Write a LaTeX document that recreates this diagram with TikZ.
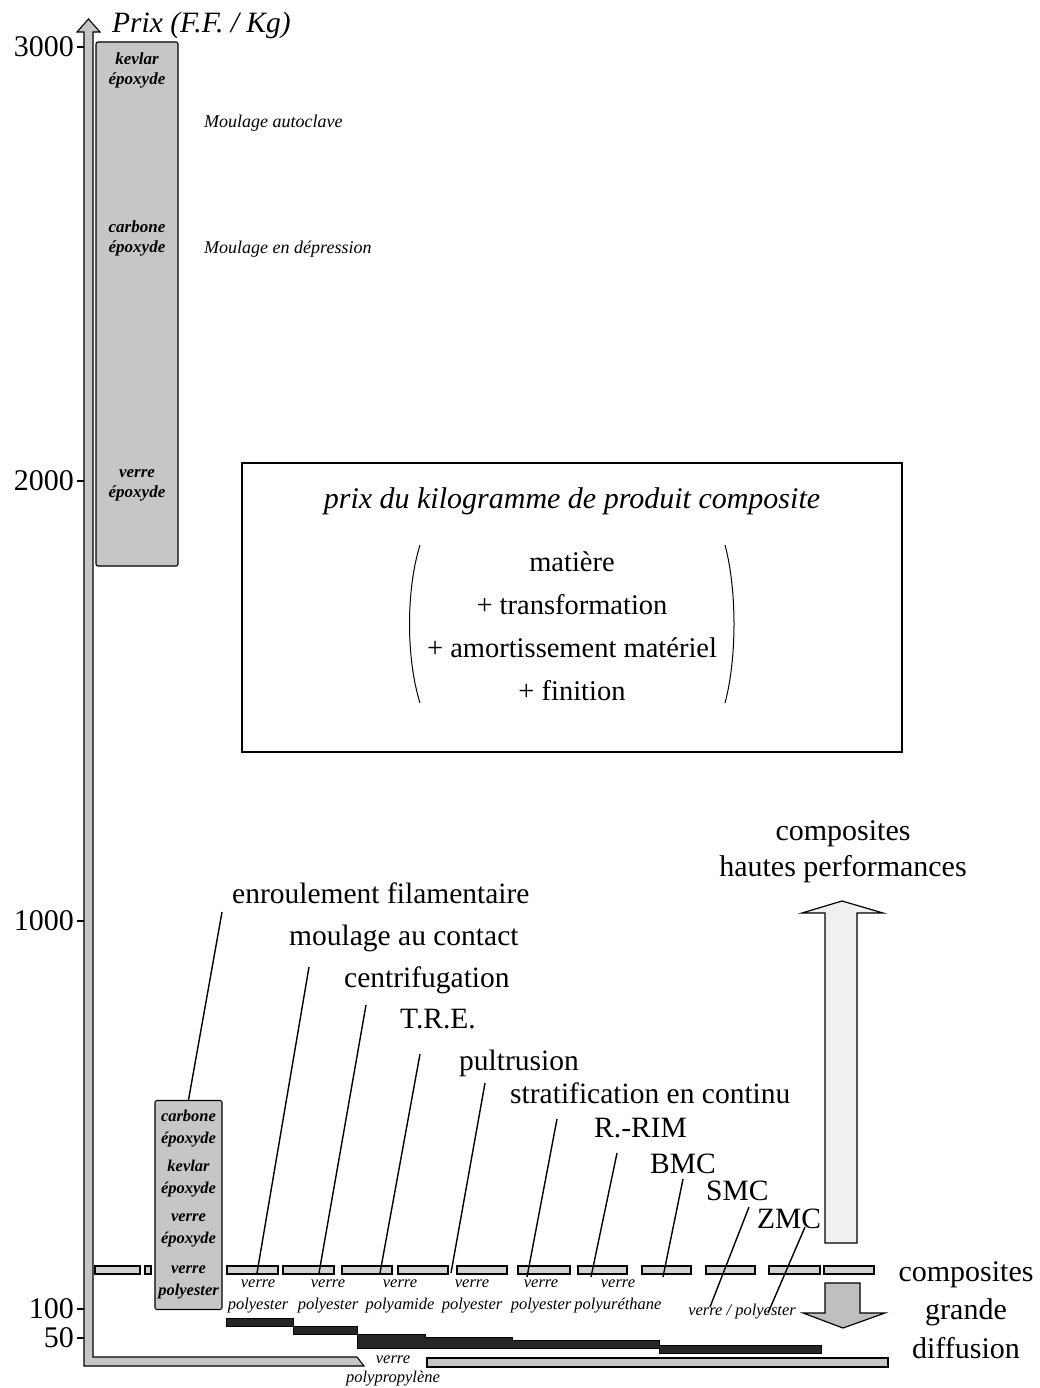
\documentclass[tikz,border=0pt]{standalone}
\usepackage{fontspec}
\setmainfont{Liberation Serif}
\usetikzlibrary{positioning}

\begin{document}
\begin{tikzpicture}[x=1pt, y=-1pt,
    bar/.style={draw=black, fill=gray!45, line width=1.1pt},
    seg/.style={draw=black, fill=gray!35, line width=1.2pt},
    leader/.style={line width=1.4pt},
    proc/.style={anchor=base west, inner sep=0pt, font=\fontsize{29.5}{34}\selectfont},
    ticklbl/.style={anchor=east, inner sep=0pt, font=\fontsize{30}{34}\selectfont},
    matl/.style={align=center, inner sep=0pt, font=\fontsize{16.5}{22}\selectfont\itshape},
    boxlbl/.style={align=center, inner sep=0pt, font=\fontsize{17}{20}\selectfont\bfseries\itshape},
    big/.style={align=center, inner sep=0pt, font=\fontsize{30}{36}\selectfont}]
                \useasboundingbox (0,0) rectangle (1040,1388);
                % Axis
                \draw[bar] (84,32) -- (84,1366) -- (364,1366) -- (357,1357) -- (93,1357) -- (93,32)
                    -- (100,32) -- (88.5,19) -- (77,32) -- cycle;
                \draw[bar] (427,1358) rectangle (888,1367);
                \foreach \v/\y in {3000/47, 2000/481, 1000/921, 100/1309, 50/1338} {
                    \draw[line width=1.1pt] (77,\y) -- (84,\y);
                    \node[ticklbl] (t\v) at (74,\y) {\v};
                }
                \node[anchor=base west, inner sep=0pt, font=\fontsize{29.5}{34}\selectfont\itshape] (prix) at (112,33) {Prix (F.F. / Kg)};
                % High performance column
                \node[bar, rounded corners=2pt, minimum width=82pt, minimum height=524pt, inner sep=0pt] (hibox) at (137,304) {};
                \node[boxlbl] (kev) at (137,70) {kevlar\\époxyde};
                \node[boxlbl] (carb) at (137,238) {carbone\\époxyde};
                \node[boxlbl] (verep) at (137,485) {verre\\époxyde};
                \node[anchor=base west, inner sep=0pt, font=\fontsize{18}{22}\selectfont\itshape] (autocl) at (204,128) {Moulage autoclave};
                \node[anchor=base west, inner sep=0pt, font=\fontsize{18}{22}\selectfont\itshape] (depr) at (204,253) {Moulage en dépression};
                % Price box
                \node[draw, line width=1.2pt, minimum width=660pt, minimum height=289pt] (cadre) at (572,607.5) {};
                \node[inner sep=0pt, font=\fontsize{30}{34}\selectfont\itshape] (titre) at (572,501) {prix du kilogramme de produit composite};
                \node[big, font=\fontsize{28.5}{43}\selectfont] (somme) at (572,626) {matière\\+ transformation\\+ amortissement matériel\\+ finition};
                \draw[line width=1pt] (420,545) .. controls (406,590) and (406,658) .. (420,703);
                \draw[line width=1pt] (725,545) .. controls (737,590) and (737,658) .. (725,703);
                % Low column
                \node[bar, rounded corners=2pt, minimum width=67pt, minimum height=209pt, inner sep=0pt, align=center,
                    font=\fontsize{16.5}{22}\selectfont\bfseries\itshape] (lobox) at (188.5,1205)
                    {carbone\\époxyde\\[6pt]kevlar\\époxyde\\[6pt]verre\\époxyde\\[8pt]verre\\polyester};
                % Dashes
                \foreach \xa/\xb in {95/140, 145/151, 227/278, 283/334, 342/392, 398/448, 457/507,
                    518/570, 578/627, 642/691, 706/755, 769/820, 824/874} {
                    \draw[seg] (\xa,1266) rectangle (\xb,1274);
                }
                % Materials
                \foreach \nm/\x/\mat in {m1/258/polyester, m2/328/polyester, m3/400/polyamide,
                    m4/472/polyester, m5/541/polyester, m6/618/polyuréthane} {
                    \node[matl] (\nm) at (\x,1296) {verre\\\mat};
                }
                \node[matl] (m7) at (742,1312) {verre / polyester};
                \node[matl, font=\fontsize{16.5}{19}\selectfont\itshape] (pp) at (393,1371) {verre\\polypropylène};
                % Black steps
                \draw[line width=1pt, fill=black!85] (226,1318) -- (293,1318) -- (293,1326) -- (357,1326) -- (357,1334) -- (425,1334)
                    -- (425,1337) -- (512,1337) -- (512,1340) -- (659,1340) -- (659,1345) -- (821,1345)
                    -- (821,1353) -- (659,1353) -- (659,1348) -- (357,1348) -- (357,1334) -- (293,1334)
                    -- (293,1326) -- (226,1326) -- cycle;
                % Processes
                \node[proc] (enroul) at (232,903) {enroulement filamentaire};
                \coordinate (enroul-a) at (222,912);
                \draw[leader] (enroul-a) -- (lobox.north);
                \foreach \nm/\lbl/\lx/\ly/\ax/\ay/\bx/\by in {
                    moul/moulage au contact/289/945/309/967/257/1273,
                    centr/centrifugation/344/987/366/1005/319/1273,
                    tre/T.R.E./400/1028/420/1054/380/1273,
                    pult/pultrusion/459/1070/485/1083/451/1273,
                    strat/stratification en continu/510/1103/557/1119/527/1277,
                    rrim/R.-RIM/594/1137/617/1153/591/1277,
                    bmc/BMC/650/1173/683/1179/663/1277,
                    smc/SMC/706/1200/749/1207/710/1307,
                    zmc/ZMC/757/1228/805/1227/768/1313} {
                    \node[proc] (\nm) at (\lx,\ly) {\lbl};
                    \coordinate (\nm-a) at (\ax,\ay);
                    \coordinate (\nm-b) at (\bx,\by);
                    \draw[leader] (\nm-a) -- (\nm-b);
                }
                % Arrows
                \draw[line width=1.2pt, fill=gray!12] (825,1243) -- (825,913) -- (802,913) -- (842,901) -- (883,913)
                    -- (857,913) -- (857,1243) -- cycle;
                \draw[line width=1.2pt, fill=gray!50] (825,1283) -- (860,1283) -- (860,1313) -- (885,1313) -- (843,1328)
                    -- (803,1313) -- (825,1313) -- cycle;
                \node[big] (haute) at (843,852) {composites\\hautes performances};
                \node[big, font=\fontsize{30}{38.5}\selectfont] (grande) at (966,1310) {composites\\grande\\diffusion};
            \end{tikzpicture}
\end{document}
